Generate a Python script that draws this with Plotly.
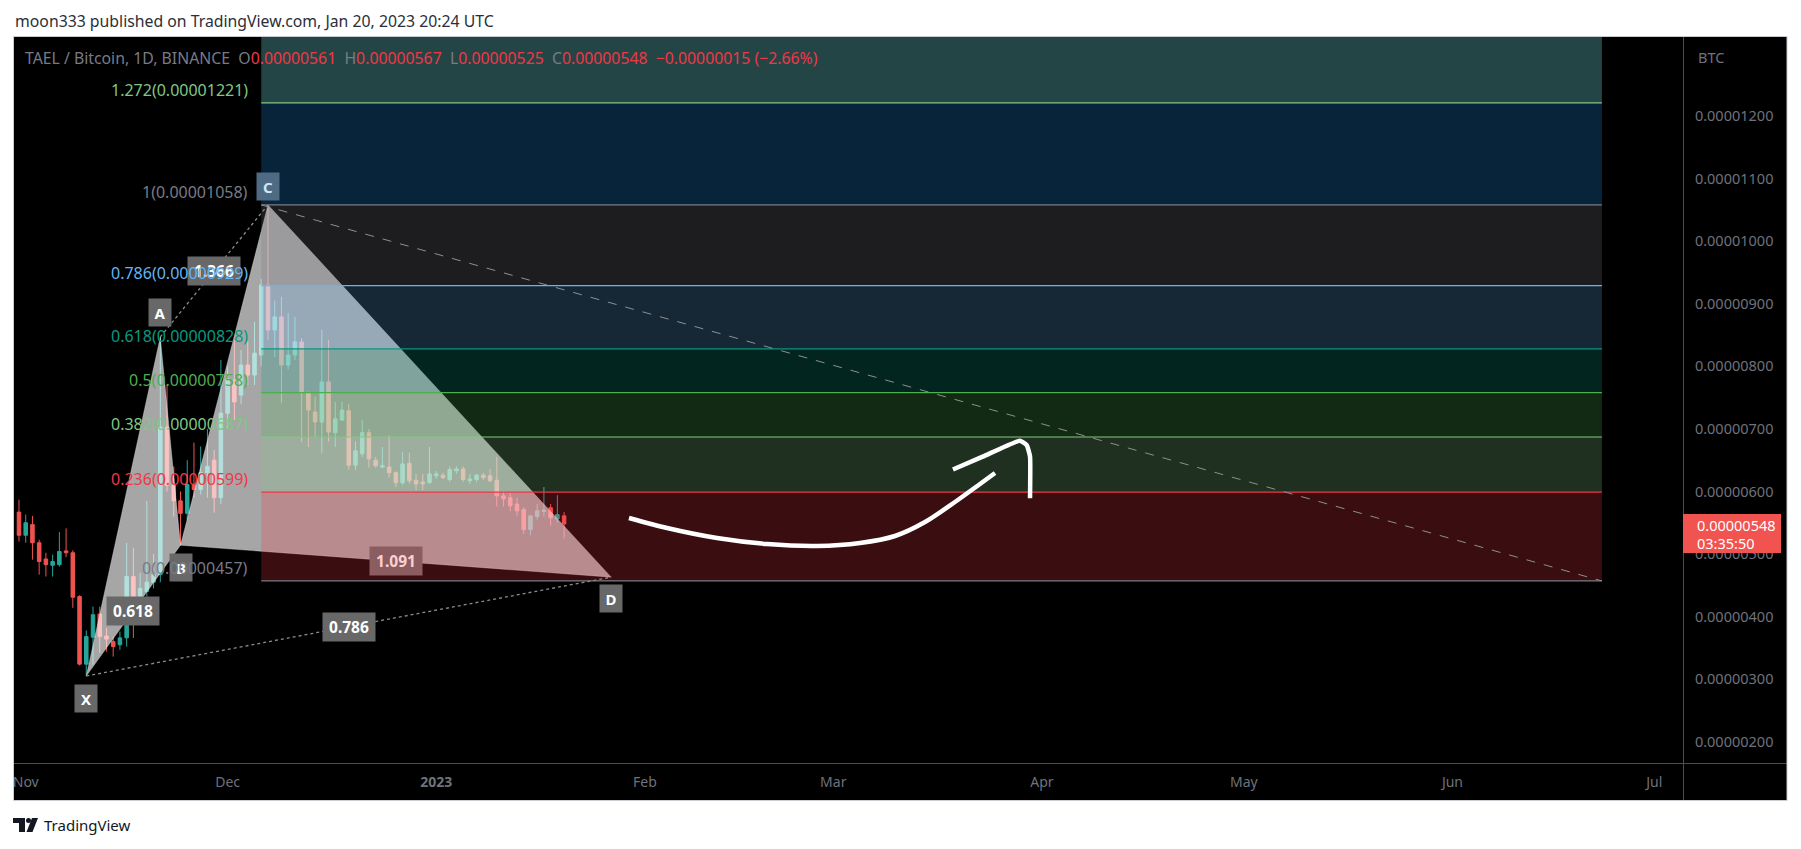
import pandas as pd
import plotly.graph_objects as go

# ---------------- data (prices in satoshi, 1 sat = 1e-8 BTC) ----------------
SAT = 1e-8
candle_dates = pd.date_range("2022-10-31", "2023-01-20", freq="D")
open_sat = [567, 530, 547, 518, 492, 482, 483, 505, 502, 432, 324, 367, 404, 369, 360, 355, 366, 464, 429, 440,
            455, 467, 703, 610, 585, 565, 611, 603, 630, 650, 590, 725, 778, 754, 802, 786, 818, 930, 858, 879,
            802, 818, 839, 757, 727, 711, 775, 694, 714, 729, 642, 660, 694, 650, 639, 639, 630, 614, 645, 618,
            615, 614, 625, 626, 619, 633, 636, 617, 619, 626, 625, 618, 593, 590, 580, 571, 539, 560, 568, 574,
            556, 561]
high_sat = [587, 563, 561, 523, 502, 499, 535, 541, 506, 434, 378, 416, 416, 382, 368, 376, 518, 510, 470, 585,
            500, 847, 770, 640, 600, 650, 678, 672, 700, 666, 810, 800, 842, 826, 840, 871, 940, 1058, 905, 911,
            885, 879, 845, 760, 751, 858, 842, 743, 743, 740, 680, 714, 700, 655, 671, 690, 632, 663, 662, 628,
            628, 671, 633, 630, 640, 640, 640, 628, 628, 630, 636, 655, 600, 598, 590, 575, 561, 580, 607, 580,
            594, 567]
low_sat = [520, 518, 491, 467, 464, 464, 480, 495, 414, 322, 305, 323, 342, 344, 336, 347, 352, 366, 410, 432,
           445, 455, 600, 560, 515, 555, 590, 595, 590, 566, 580, 700, 714, 740, 770, 770, 800, 842, 815, 741,
           795, 810, 679, 671, 687, 661, 680, 671, 714, 635, 634, 655, 638, 638, 637, 622, 607, 610, 612, 602,
           602, 612, 620, 620, 615, 628, 615, 612, 615, 618, 615, 576, 576, 568, 560, 532, 530, 555, 560, 545,
           550, 525]
close_sat = [530, 550, 518, 488, 483, 488, 504, 502, 431, 324, 368, 403, 368, 364, 352, 366, 464, 429, 445, 455,
             467, 703, 610, 585, 565, 611, 603, 630, 640, 590, 725, 780, 743, 802, 786, 821, 930, 858, 879, 802,
             818, 839, 759, 730, 711, 775, 695, 716, 730, 642, 665, 694, 652, 641, 641, 630, 614, 644, 617, 612,
             612, 628, 628, 622, 635, 636, 619, 620, 626, 622, 617, 593, 588, 577, 569, 539, 561, 569, 570, 558,
             563, 548]

# XABCD harmonic pattern
pattern_names = ["X", "A", "B", "C", "D"]
pattern_dates = ["2022-11-10", "2022-11-21", "2022-11-24", "2022-12-07", "2023-01-27"]
pattern_sat = [305, 847, 514, 1058, 463]
ratio_texts = ["0.618", "1.366", "1.091", "0.786"]
ratio_legs = [(0, 2), (1, 3), (2, 4), (0, 4)]

# Fibonacci retracement
fib_start, fib_end = "2022-12-06", "2023-06-23 05:00"
fib_names = ["0", "0.236", "0.382", "0.5", "0.618", "0.786", "1", "1.272", "1.618"]
fib_sat = [457, 599, 687, 758, 828, 929, 1058, 1221, 1429]
fib_line_colors = ["#787b86", "#f23645", "#81c784", "#4caf50", "#089981", "#64b5f6", "#787b86", "#81c784", "#4dd0e1"]
fib_zone_colors = [None, "rgba(242,54,69,0.24)", "rgba(129,199,132,0.24)", "rgba(76,175,80,0.24)",
                   "rgba(8,153,129,0.24)", "rgba(100,181,246,0.22)", "rgba(120,123,134,0.24)",
                   "rgba(33,150,243,0.24)", "rgba(120,230,230,0.30)"]

# hand-drawn arrow (day offsets from 2022-12-01, price in sat)
arrow_base = "2022-12-01"
arrow_curve_days = [59.64, 65.29, 72.72, 80.15, 87.58, 93.97, 99.17, 103.63, 108.08, 111.80, 114.03]
arrow_curve_sat = [557.5, 541.5, 525.5, 515.9, 512.8, 517.6, 528.8, 551.1, 583.1, 611.9, 629.4]
arrow_head_days = [107.78, 112.29, 117.74, 118.74, 119.23, 119.23]
arrow_head_sat = [635, 656, 681, 674, 656, 589]

# axes
price_ticks_sat = [200, 300, 400, 500, 600, 700, 800, 900, 1000, 1100, 1200]
month_ticks = ["2022-11-01", "2022-12-01", "2023-01-01", "2023-02-01", "2023-03-01",
               "2023-04-01", "2023-05-01", "2023-06-01", "2023-07-01"]
month_text = ["Nov", "Dec", "<b>2023</b>", "Feb", "Mar", "Apr", "May", "Jun", "Jul"]
x_range = ["2022-10-30 06:14", "2023-07-05 06:14"]
y_range_sat = [166, 1326.3]

# ---------------- layout geometry ----------------
OFF = 8                      # page body margin of the html page
W, H = 1785, 833
ML, MT = 14 - OFF, 37 - OFF
MR = W - (1683 - OFF)
MB = H - (763 - OFF)
PW, PH = W - ML - MR, H - MT - MB
FONT = "Noto Sans"


def px(x):   # screen pixel -> paper
    return (x - OFF - ML) / PW


def py(y):
    return (OFF + H - MB - y) / PH


def s(v):
    return [a * SAT for a in v]


def days_to_dates(days):
    base = pd.Timestamp(arrow_base)
    return [base + pd.Timedelta(days=d) for d in days]


fig = go.Figure()

fig.add_trace(go.Candlestick(
    x=candle_dates, open=s(open_sat), high=s(high_sat), low=s(low_sat), close=s(close_sat),
    increasing=dict(line=dict(color="#26a69a", width=1), fillcolor="#26a69a"),
    decreasing=dict(line=dict(color="#ef5350", width=1), fillcolor="#ef5350"),
    whiskerwidth=0, hoverinfo="skip", showlegend=False))

pdates = pd.to_datetime(pattern_dates)
pprice = s(pattern_sat)
# pattern triangles XAB and BCD
for tri in [(0, 1, 2), (2, 3, 4)]:
    fig.add_trace(go.Scatter(
        x=[pdates[i] for i in tri] + [pdates[tri[0]]],
        y=[pprice[i] for i in tri] + [pprice[tri[0]]],
        mode="lines", fill="toself", fillcolor="rgba(255,255,255,0.65)",
        line=dict(width=0.6, color="rgba(255,255,255,0.5)"), hoverinfo="skip", showlegend=False))

# fib zones
fs, fe = pd.Timestamp(fib_start), pd.Timestamp(fib_end)
fp = s(fib_sat)
for i in range(1, len(fp)):
    fig.add_trace(go.Scatter(
        x=[fs, fe, fe, fs, fs], y=[fp[i - 1], fp[i - 1], fp[i], fp[i], fp[i - 1]],
        mode="lines", fill="toself", fillcolor=fib_zone_colors[i], line=dict(width=0),
        hoverinfo="skip", showlegend=False))
for i in range(len(fp)):
    fig.add_trace(go.Scatter(x=[fs, fe], y=[fp[i], fp[i]], mode="lines",
                             line=dict(color=fib_line_colors[i], width=1.2),
                             hoverinfo="skip", showlegend=False))
# fib trend line (dashed)
fig.add_trace(go.Scatter(x=[fs, fe], y=[fp[6], fp[0]], mode="lines",
                         line=dict(color="#8f8f8f", width=1, dash="dash"), hoverinfo="skip", showlegend=False))

# dotted pattern legs A-C and X-D
for a, b in [(1, 3), (0, 4)]:
    fig.add_trace(go.Scatter(x=[pdates[a], pdates[b]], y=[pprice[a], pprice[b]], mode="lines",
                             line=dict(color="#8c8c8c", width=1.3, dash="dot"),
                             hoverinfo="skip", showlegend=False))

# arrow
fig.add_trace(go.Scatter(x=days_to_dates(arrow_curve_days), y=s(arrow_curve_sat), mode="lines",
                         line=dict(color="white", width=4.5, shape="spline", smoothing=0.8),
                         hoverinfo="skip", showlegend=False))
fig.add_trace(go.Scatter(x=days_to_dates(arrow_head_days), y=s(arrow_head_sat), mode="lines",
                         line=dict(color="white", width=4.5, shape="spline", smoothing=0.4),
                         hoverinfo="skip", showlegend=False))

ann = []
# pattern point labels
letter_shift = [-22, 24, -22, 18, -21]
letter_box = ["#686868", "#686868", "#686868", "#4f6b84", "#686868"]
letter_txt = ["#ffffff", "#ffffff", "#ffffff", "#cde6fb", "#ffffff"]
for i, n in enumerate(pattern_names):
    ann.append(dict(x=pdates[i], y=pprice[i], xref="x", yref="y", text="<b>%s</b>" % n, showarrow=False,
                    yshift=letter_shift[i], bgcolor=letter_box[i], width=17, height=22, borderpad=2.5,
                    font=dict(family=FONT, size=15, color=letter_txt[i])))
ratio_box = ["#686868", "#686868", "#8b5d60", "#686868"]
ratio_txt = ["#ffffff", "#ffffff", "#fccfd2", "#ffffff"]
for k, (a, b) in enumerate(ratio_legs):
    mx = pdates[a] + (pdates[b] - pdates[a]) / 2
    my = (pprice[a] + pprice[b]) / 2
    ann.append(dict(x=mx, y=my, xref="x", yref="y", text="<b>%s</b>" % ratio_texts[k], showarrow=False,
                    bgcolor=ratio_box[k], width=47, height=23, borderpad=2.5,
                    font=dict(family=FONT, size=15.5, color=ratio_txt[k])))
# fib labels
for i in range(len(fp)):
    if fib_sat[i] > y_range_sat[1]:
        continue
    ann.append(dict(x=fs, y=fp[i], xref="x", yref="y", xanchor="right", yanchor="middle",
                    xshift=-11, yshift=13, showarrow=False,
                    text="%s(%.8f)" % (fib_names[i], fp[i]),
                    font=dict(family=FONT, size=16, color=fib_line_colors[i])))

# legend line
grey, red = "#787b86", "#f23645"
chg = close_sat[-1] - close_sat[-2]
pct = chg / close_sat[-2] * 100
nb = "\u00a0"
legend = ("<span style='color:%s'>TAEL / Bitcoin, 1D, BINANCE%s%sO</span>" % (grey, nb, nb) +
          "<span style='color:%s'>%.8f</span>" % (red, open_sat[-1] * SAT) +
          "<span style='color:%s'>%s%sH</span><span style='color:%s'>%.8f</span>" % (grey, nb, nb, red, high_sat[-1] * SAT) +
          "<span style='color:%s'>%s%sL</span><span style='color:%s'>%.8f</span>" % (grey, nb, nb, red, low_sat[-1] * SAT) +
          "<span style='color:%s'>%s%sC</span><span style='color:%s'>%.8f</span>" % (grey, nb, nb, red, close_sat[-1] * SAT) +
          "<span style='color:%s'>%s%s\u2212%.8f (\u2212%.2f%%)</span>" % (red, nb, nb, abs(chg) * SAT, abs(pct)))
ann.append(dict(x=px(23), y=py(58), xref="paper", yref="paper", xanchor="left", yanchor="middle",
                text=legend, showarrow=False, font=dict(family=FONT, size=15.8, color=grey)))
ann.append(dict(x=px(1696), y=py(57), xref="paper", yref="paper", xanchor="left", yanchor="middle",
                text="BTC", showarrow=False, font=dict(family=FONT, size=14.5, color="#6f727c")))
# current price tag
ann.append(dict(x=px(1695), y=py(525), xref="paper", yref="paper", xanchor="left", yanchor="middle",
                text="%.8f" % (close_sat[-1] * SAT), showarrow=False,
                font=dict(family=FONT, size=14.5, color="#ffffff")))
ann.append(dict(x=px(1695), y=py(543), xref="paper", yref="paper", xanchor="left", yanchor="middle",
                text="03:35:50", showarrow=False, font=dict(family=FONT, size=14.5, color="#ffffff")))
# header & footer
ann.append(dict(x=px(13), y=py(21), xref="paper", yref="paper", xanchor="left", yanchor="middle",
                text="moon333 published on TradingView.com, Jan 20, 2023 20:24 UTC", showarrow=False,
                font=dict(family=FONT, size=15.8, color="#2a2e39")))
ann.append(dict(x=px(42), y=py(825), xref="paper", yref="paper", xanchor="left", yanchor="middle",
                text="TradingView", showarrow=False, font=dict(family=FONT, size=15, color="#131722")))

shapes = [
    # axis panels
    dict(type="rect", xref="paper", yref="paper", x0=px(1683), x1=px(1787), y0=py(37), y1=py(800),
         fillcolor="#000000", line=dict(width=0), layer="below"),
    dict(type="rect", xref="paper", yref="paper", x0=px(14), x1=px(1683), y0=py(763), y1=py(800),
         fillcolor="#000000", line=dict(width=0), layer="below"),
    dict(type="line", xref="paper", yref="paper", x0=px(1683.5), x1=px(1683.5), y0=py(37), y1=py(800),
         line=dict(color="#4a4d55", width=1), layer="below"),
    dict(type="line", xref="paper", yref="paper", x0=px(14), x1=px(1787), y0=py(763.5), y1=py(763.5),
         line=dict(color="#4a4d55", width=1), layer="below"),
    dict(type="rect", xref="paper", yref="paper", x0=px(13.5), x1=px(1787), y0=py(36.5), y1=py(800.5),
         fillcolor="rgba(0,0,0,0)", line=dict(color="#c9cbd1", width=1), layer="above"),
    # current price tag
    dict(type="rect", xref="paper", yref="paper", x0=px(1683), x1=px(1781), y0=py(514), y1=py(553),
         fillcolor="#f05350", line=dict(width=0), layer="above"),
    # TradingView logo
    dict(type="rect", xref="paper", yref="paper", x0=px(13), x1=px(25), y0=py(818), y1=py(823),
         fillcolor="#131722", line=dict(width=0)),
    dict(type="rect", xref="paper", yref="paper", x0=px(19), x1=px(25), y0=py(818), y1=py(832),
         fillcolor="#131722", line=dict(width=0)),
    dict(type="circle", xref="paper", yref="paper", x0=px(26), x1=px(31), y0=py(818), y1=py(823),
         fillcolor="#131722", line=dict(width=0)),
    dict(type="path", xref="paper", yref="paper",
         path="M %f,%f L %f,%f L %f,%f L %f,%f Z" % (px(32), py(818), px(38), py(818), px(32.5), py(832), px(26.5), py(832)),
         fillcolor="#131722", line=dict(width=0)),
]

fig.update_layout(
    width=W, height=H, margin=dict(l=ML, r=MR, t=MT, b=MB, autoexpand=False),
    paper_bgcolor="#ffffff", plot_bgcolor="#000000", showlegend=False, hovermode=False,
    annotations=ann, shapes=shapes, boxgap=0.25,
    xaxis=dict(type="date", range=x_range, rangeslider=dict(visible=False), showgrid=False, zeroline=False,
               showline=False, tickvals=month_ticks, ticktext=month_text, ticks="outside", ticklen=6,
               tickcolor="rgba(0,0,0,0)", tickfont=dict(family=FONT, size=14, color="#6f727c")),
    yaxis=dict(side="right", range=[v * SAT for v in y_range_sat], showgrid=False, zeroline=False,
               showline=False, tickvals=s(price_ticks_sat), ticktext=["%.8f" % (v * SAT) for v in price_ticks_sat],
               ticks="outside", ticklen=8, tickcolor="rgba(0,0,0,0)",
               tickfont=dict(family=FONT, size=14.5, color="#6f727c")),
)

fig.write_html("out.html")
